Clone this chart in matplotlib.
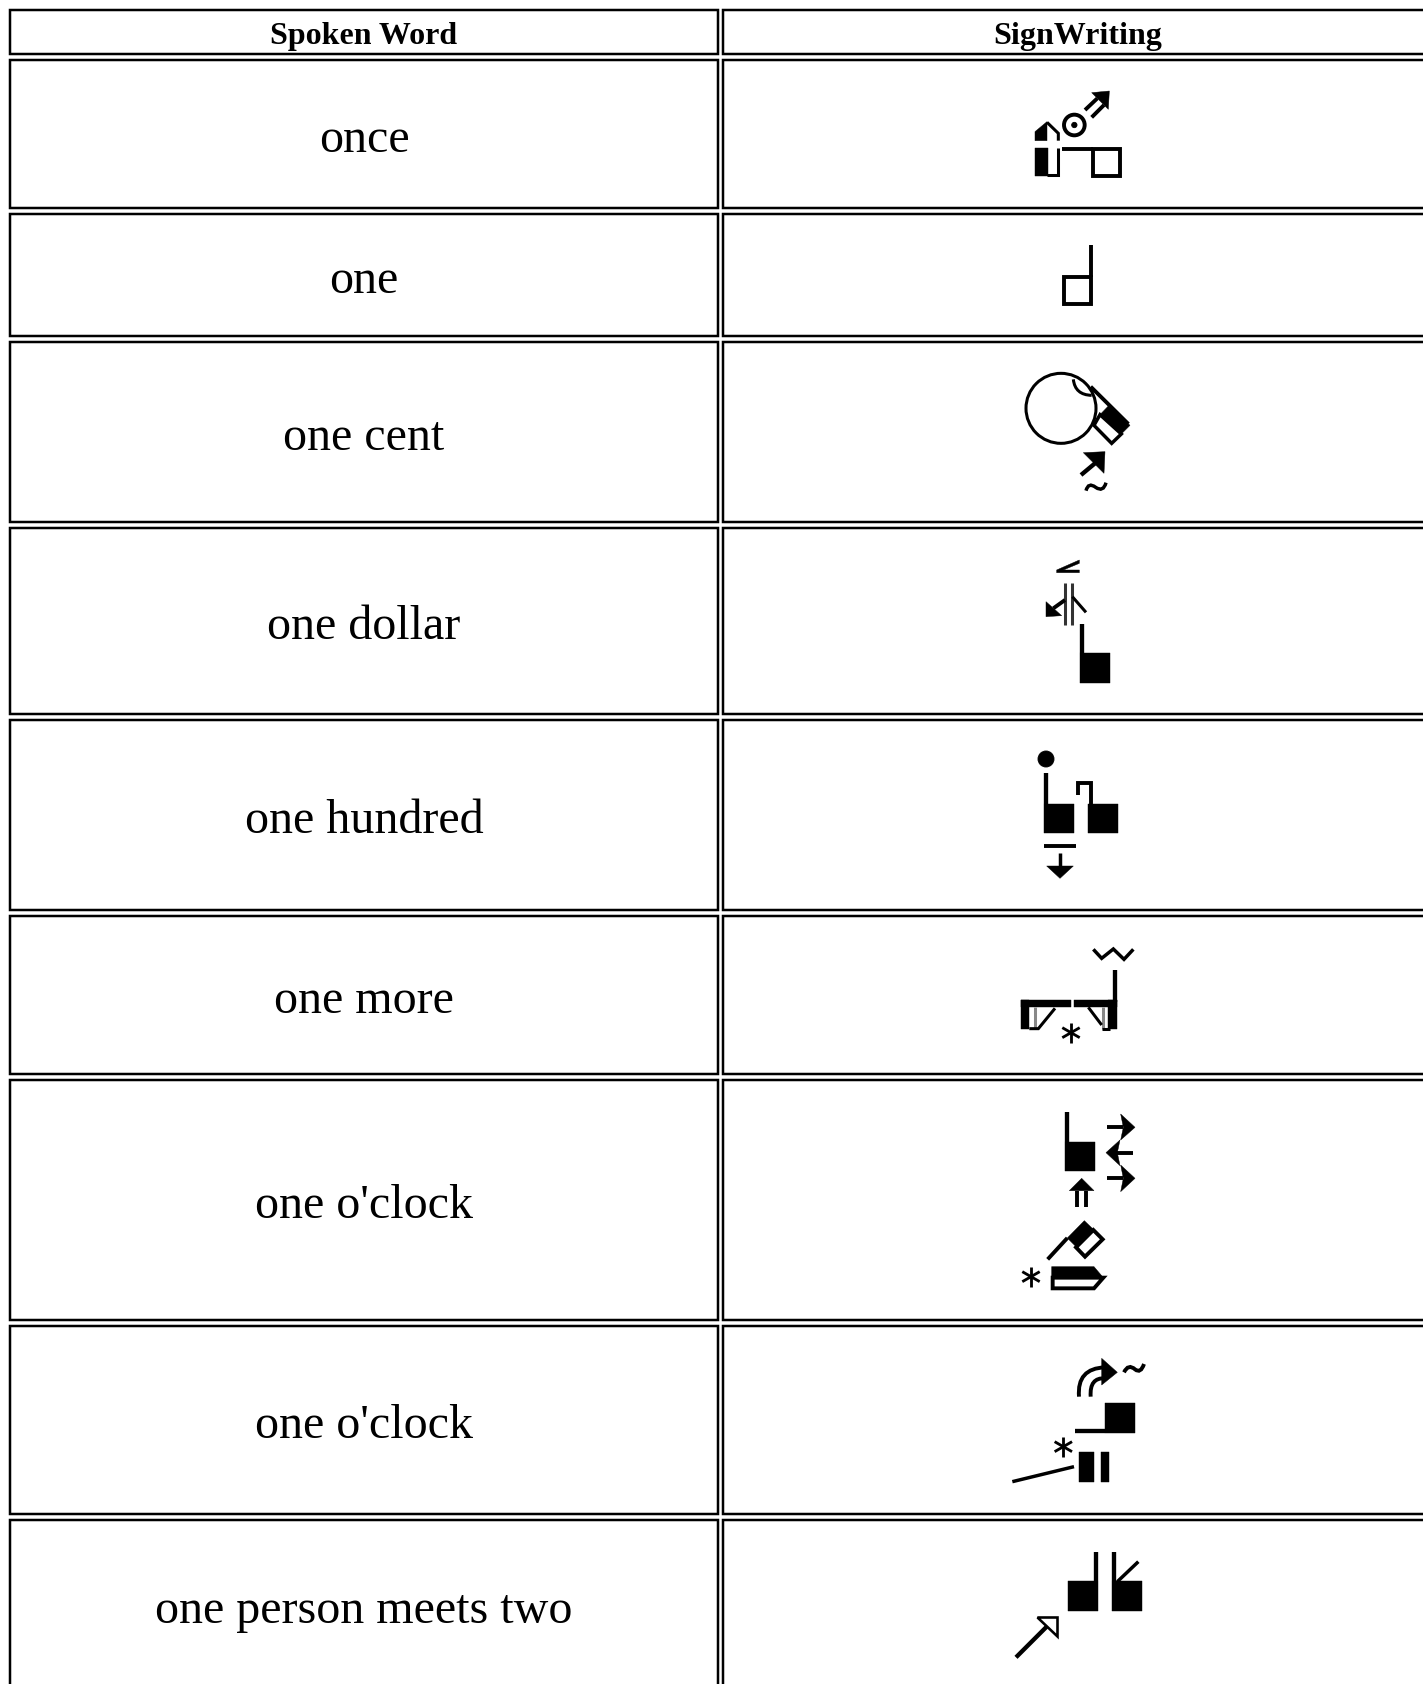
import matplotlib
matplotlib.use('Agg')
import matplotlib.pyplot as plt
from matplotlib.patches import Rectangle, Polygon, Circle, PathPatch
from matplotlib.path import Path

headers = ['Spoken Word', 'SignWriting']
words = ['once', 'one', 'one cent', 'one dollar', 'one hundred', 'one more',
         "one o'clock", "one o'clock", 'one person meets two']
row_tops = [10, 60, 214, 342, 528, 720, 916, 1080, 1326, 1520]
row_bottoms = [54, 208, 336, 522, 714, 910, 1074, 1320, 1514, 1760]
col_lefts = [10, 723]
col_rights = [718, 1433]

plt.rcParams['font.family'] = ['Liberation Serif', 'DejaVu Serif']
fig = plt.figure(figsize=(14.23, 16.84), dpi=100)
ax = fig.add_axes([0, 0, 1, 1])
ax.set_xlim(0, 1423)
ax.set_ylim(1684, 0)
ax.axis('off')

PX = 0.72  # points per pixel at dpi 100
THICK = 1.3  # strokes came out thin when read straight off the crops


class Glyph:
    def __init__(self, x0, y0):
        self.x0 = x0
        self.y0 = y0

    def xy(self, pts):
        return [(self.x0 + x / 3, self.y0 + y / 3) for x, y in pts]

    def line(self, pts, w=9, color='k'):
        p = self.xy(pts)
        ax.plot([a for a, b in p], [b for a, b in p], color=color, lw=w / 3 * PX * THICK,
                solid_capstyle='butt', solid_joinstyle='miter')

    def curve(self, pts, w=9):
        # pts: start, then control/end pairs
        p = self.xy(pts)
        codes = [Path.MOVETO] + [Path.CURVE3] * (len(p) - 1)
        ax.add_patch(PathPatch(Path(p, codes), fc='none', ec='k', lw=w / 3 * PX * THICK, capstyle='butt'))

    def poly(self, pts, fc='k', ec='k', w=1):
        ax.add_patch(Polygon(self.xy(pts), closed=True, fc=fc, ec=ec, lw=w / 3 * PX * THICK, joinstyle='miter'))

    def rect(self, x0, y0, x1, y1, fc='k', w=1):
        self.poly([(x0, y0), (x1, y0), (x1, y1), (x0, y1)], fc=fc, w=w)

    def circle(self, x, y, r, fc='none', w=8):
        c = self.xy([(x, y)])[0]
        ax.add_patch(Circle(c, r / 3, fc=fc, ec='k', lw=w / 3 * PX * THICK))

    def star(self, x, y, r=30, w=6.5):
        self.line([(x, y - r), (x, y + r)], w)
        self.line([(x - r * 0.87, y - r * 0.5), (x + r * 0.87, y + r * 0.5)], w)
        self.line([(x - r * 0.87, y + r * 0.5), (x + r * 0.87, y - r * 0.5)], w)


# table
for left, right in zip(col_lefts, col_rights):
    for top, bottom in zip(row_tops, row_bottoms):
        ax.add_patch(Rectangle((left, top), right - left, bottom - top, fc='white', ec='k',
                               lw=2.5 * PX, snap=False))

for i, h in enumerate(headers):
    ax.text((col_lefts[i] + col_rights[i]) / 2, 44, h, ha='center', va='baseline',
            fontsize=32 * PX, fontweight='bold')

for word, top, bottom in zip(words, row_tops[1:], row_bottoms[1:]):
    if bottom > 1684:
        bottom = 1690
    ax.text((col_lefts[0] + col_rights[0]) / 2, (top + bottom) / 2 + 18, word, ha='center',
            va='baseline', fontsize=48 * PX)

# once / one
g = Glyph(980, 70)
g.poly([(165, 212), (165, 185), (201, 155), (201, 212)])
g.line([(201, 157), (235, 190), (235, 212)], 7)
g.rect(165, 235, 203, 318)
g.line([(235, 235), (235, 315), (200, 315)], 7)
g.circle(283, 165, 31, w=9)
g.circle(283, 165, 8, fc='k', w=2)
g.poly([(335, 68), (388, 63), (385, 118)])
g.line([(315, 120), (352, 85)], 9)
g.line([(335, 142), (372, 105)], 9)
g.line([(245, 238), (340, 238)], 9)
g.rect(338, 236, 420, 318, fc='none', w=9)

g.rect(252, 622, 334, 702, fc='none', w=9)
g.line([(333, 525), (333, 622)], 9)

# one cent
g = Glyph(980, 350)
g.circle(243, 175, 105, w=7)
g.curve([(280, 88), (285, 135), (335, 136)], 7)
g.line([(332, 110), (445, 222)], 9)
g.poly([(385, 168), (450, 226), (424, 252), (360, 194)])
g.poly([(360, 194), (424, 252), (395, 280), (342, 226)], fc='white', w=8)
g.poly([(310, 308), (375, 305), (372, 370)])
g.line([(345, 340), (303, 375)], 10)
g.curve([(318, 422), (325, 395), (347, 412), (370, 428), (378, 398)], 8)

# one dollar
g.poly([(298, 630), (298, 640), (250, 660), (298, 660), (298, 668), (230, 668), (230, 660)])
g.line([(255, 700), (255, 825)], 7, '#333333')
g.line([(277, 700), (277, 825)], 7, '#333333')
g.poly([(198, 755), (198, 800), (245, 797)])
g.line([(220, 775), (255, 750)], 9)
g.line([(277, 740), (318, 787)], 7)
g.line([(306, 822), (306, 910)], 10)
g.rect(300, 910, 390, 1000)

# one hundred
g = Glyph(980, 730)
g.circle(198, 87, 24, fc='k', w=2)
g.line([(198, 130), (198, 222)], 10)
g.rect(192, 222, 282, 310)
g.rect(325, 222, 414, 310)
g.line([(294, 195), (294, 158), (332, 158), (332, 222)], 9)
g.line([(192, 347), (288, 347)], 9)
g.line([(240, 368), (240, 415)], 8)
g.poly([(200, 408), (280, 408), (240, 445)])

# one more
g.line([(340, 658), (365, 685), (400, 657), (432, 688), (460, 658)], 8)
g.line([(405, 720), (405, 815)], 10)
g.rect(122, 810, 148, 898)
g.rect(122, 810, 272, 832)
g.line([(165, 832), (165, 898)], 7, '#888888')
g.line([(148, 896), (175, 896), (225, 835)], 7)
g.rect(385, 810, 410, 898)
g.rect(282, 810, 410, 832)
g.line([(370, 832), (370, 898)], 7, '#888888')
g.line([(325, 832), (365, 885)], 7)
g.line([(365, 896), (390, 896)], 7)
g.star(273, 908)

# one o'clock 1
g = Glyph(980, 1100)
g.line([(260, 35), (260, 125)], 10)
g.rect(255, 125, 345, 213)
g.line([(382, 82), (430, 82)], 9)
g.poly([(422, 42), (465, 82), (422, 120), (430, 82)])
g.line([(458, 158), (410, 158)], 9)
g.poly([(420, 120), (378, 158), (420, 197), (412, 158)])
g.line([(382, 235), (430, 235)], 9)
g.poly([(422, 195), (465, 235), (422, 275), (430, 235)])
g.poly([(268, 272), (342, 272), (305, 235)])
g.line([(291, 272), (291, 320)], 9)
g.line([(319, 272), (319, 320)], 9)
g.poly([(340, 390), (368, 418), (315, 470), (288, 442)], fc='white', w=9)
g.poly([(313, 362), (342, 390), (290, 442), (262, 414)])
g.line([(262, 414), (203, 478)], 9)
g.star(153, 530)
g.poly([(342, 533), (218, 533), (218, 565), (342, 565), (370, 533)], fc='white', w=9)
g.poly([(215, 500), (342, 500), (370, 533), (215, 533)])

# one o'clock 2
g = Glyph(980, 1340)
g.curve([(297, 170), (290, 85), (375, 82)], 9)
g.curve([(332, 170), (328, 112), (375, 115)], 9)
g.poly([(365, 55), (412, 97), (365, 135)])
g.curve([(432, 97), (445, 70), (465, 88), (482, 102), (492, 72)], 9)
g.rect(375, 190, 465, 280)
g.line([(285, 274), (375, 274)], 10)
g.star(250, 320)
g.rect(297, 335, 342, 425)
g.rect(363, 335, 387, 425)
g.line([(97, 425), (282, 380)], 8)

# one person meets two
g = Glyph(980, 1530)
g.rect(264, 154, 354, 244)
g.line([(348, 65), (348, 154)], 10)
g.rect(396, 154, 486, 244)
g.line([(401, 65), (401, 154)], 10)
g.line([(412, 155), (475, 95)], 8)
g.line([(108, 382), (200, 290)], 10)
g.poly([(172, 260), (232, 260), (232, 318)], fc='white', w=6)

fig.savefig('out.png', dpi=100)
